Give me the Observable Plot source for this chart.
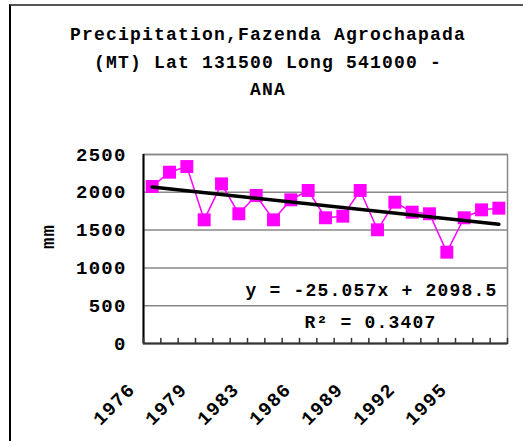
<!DOCTYPE html>
<html><head><meta charset="utf-8">
<script src="https://cdn.jsdelivr.net/npm/d3@7"></script>
<script src="https://cdn.jsdelivr.net/npm/@observablehq/plot@0.6"></script>
<style>
body{margin:0;background:#fff;}
#wrap{position:relative;width:523px;height:441px;overflow:hidden;font-family:"Liberation Mono",monospace;font-weight:bold;color:#000;}
#frame{position:absolute;left:9px;top:4px;width:530px;height:450px;border-top:2px solid #555;border-left:2px solid #000;}
#title{position:absolute;left:0;width:536px;top:22px;text-align:center;font-size:18px;line-height:27.5px;letter-spacing:1.2px;}
#chart{position:absolute;left:0;top:110px;}
</style></head><body>
<div id="wrap"><div id="frame"></div><div id="title"></div><div id="chart"></div></div>
<script>
const titleLines = ["Precipitation,Fazenda Agrochapada", "(MT) Lat 131500 Long 541000 -", "ANA"];
const years = [1976,1977,1978,1979,1980,1981,1983,1984,1985,1986,1987,1988,1989,1990,1991,1992,1993,1994,1995,1996,1997];
const precip = [2077,2266,2341,1636,2112,1716,1958,1636,1901,2024,1663,1684,2024,1504,1869,1737,1716,1208,1663,1768,1790];
const labelYears = [1976,1979,1983,1986,1989,1992,1995];
const yTicks = [0,500,1000,1500,2000,2500];
const yLabel = "mm";
const equationText = "y = -25.057x + 2098.5";
const r2Text = "R² = 0.3407";

document.getElementById("title").innerHTML = titleLines.map(t => `<div>${t}</div>`).join("");

const data = years.map((yr, i) => ({i: i + 1, year: yr, v: precip[i]}));
const xDomain = [0.5, years.length + 0.5];
const bounds = d3.range(xDomain[0], xDomain[1] + 0.01, 1);
const tickShape = {draw(ctx, l) { ctx.moveTo(0, 0); ctx.lineTo(0, -l); }};

const chart = Plot.plot({
  width: 523,
  height: 331,
  marginTop: 44,
  marginBottom: 98,
  marginLeft: 143,
  marginRight: 16,
  style: {fontFamily: "Liberation Mono, monospace", fontWeight: "bold", background: "transparent", color: "#000", letterSpacing: "1.2px"},
  x: {type: "linear", domain: xDomain, axis: null},
  y: {domain: [0, 2500], axis: null},
  marks: [
    Plot.gridY(yTicks, {stroke: "#888", strokeOpacity: 1, strokeWidth: 1.5}),
    Plot.frame({stroke: "#888", strokeWidth: 1.5}),
    Plot.ruleX([xDomain[0]], {stroke: "#000", strokeWidth: 2}),
    Plot.ruleY([0], {stroke: "#333", strokeWidth: 2}),
    Plot.vector(bounds, {x: d => d, y: () => 0, length: 5, rotate: 0, anchor: "start", shape: tickShape, stroke: "#333", strokeWidth: 1.5}),
    Plot.line(data, {x: "i", y: "v", stroke: "#ff00ff", strokeWidth: 1.5}),
    Plot.dot(data, {x: "i", y: "v", symbol: "square", r: 7.3, fill: "#ff00ff", stroke: "none"}),
    Plot.linearRegressionY(data, {x: "i", y: "v", ci: 0, stroke: "#000", strokeWidth: 3.5}),
    Plot.text(yTicks, {y: d => d, frameAnchor: "left", textAnchor: "end", dx: -17, text: d => String(d), fontSize: 19, fontWeight: "bold", fill: "#000"}),
    Plot.text([yLabel], {frameAnchor: "left", rotate: -90, dx: -96, fontSize: 19, fontWeight: "bold", fill: "#000"}),
    Plot.text(labelYears, {x: d => years.indexOf(d) + 1, y: () => 0, text: d => String(d), rotate: -45, textAnchor: "end", lineAnchor: "bottom", dx: -16, dy: 47, fontSize: 19, fontWeight: "bold", fill: "#000"}),
    Plot.text([equationText], {frameAnchor: "bottom-right", textAnchor: "end", lineAnchor: "middle", dx: -10, dy: -53, fontSize: 18, fontWeight: "bold", fill: "#000"}),
    Plot.text([r2Text], {frameAnchor: "bottom", textAnchor: "middle", lineAnchor: "middle", dx: 45, dy: -21, fontSize: 18, fontWeight: "bold", fill: "#000"})
  ]
});
document.getElementById("chart").appendChild(chart);
</script>
</body></html>
